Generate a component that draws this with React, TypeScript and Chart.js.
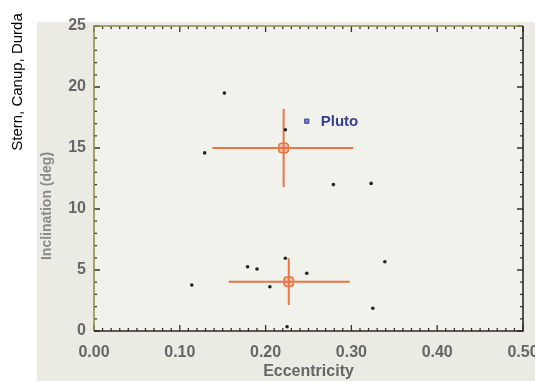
import React, { useEffect, useRef } from "react";
import { Chart, registerables } from "chart.js";

Chart.register(...registerables);

// ---- data ----
const xTickValues = [0, 0.1, 0.2, 0.3, 0.4, 0.5];
const yTickValues = [0, 5, 10, 15, 20, 25];
const xTitle = "Eccentricity";
const yTitle = "Inclination (deg)";
const sideNote = "Stern, Canup, Durda";

const objectEcc = [0.152, 0.129, 0.223, 0.279, 0.323, 0.223, 0.179, 0.19, 0.248, 0.205, 0.114, 0.225, 0.339, 0.325];
const objectInc = [19.5, 14.6, 16.5, 12.0, 12.1, 5.96, 5.27, 5.08, 4.73, 3.63, 3.77, 0.35, 5.68, 1.86];

const crossEcc = [0.221, 0.227];
const crossInc = [15.0, 4.04];
const crossEccLow = [0.138, 0.157];
const crossEccHigh = [0.302, 0.298];
const crossIncLow = [11.8, 2.13];
const crossIncHigh = [18.2, 5.96];

const plutoEcc = [0.248];
const plutoInc = [17.2];
const plutoLabel = "Pluto";

const FONT = "'Liberation Sans', Arial, Helvetica, sans-serif";
const ORANGE = "#ea7444";

const decorPlugin = {
  id: "decor",
  beforeDraw(chart: any) {
    const { ctx, chartArea: a, width, height } = chart;
    ctx.save();
    ctx.fillStyle = "#ffffff";
    ctx.fillRect(0, 0, width, height);
    ctx.fillStyle = "#ebebe4";
    ctx.fillRect(37, 22, width - 37, height - 22);
    ctx.fillStyle = "#f2f2ec";
    ctx.fillRect(a.left, a.top, a.right - a.left, a.bottom - a.top);
    ctx.restore();
  },
  afterDraw(chart: any) {
    const { ctx, chartArea: a } = chart;
    const xs = chart.scales.x;
    const ys = chart.scales.y;
    ctx.save();
    // tick marks, inward on all four sides
    ctx.strokeStyle = "#333328";
    ctx.lineWidth = 1.3;
    ctx.beginPath();
    for (let i = 0; i <= 50; i++) {
      const px = xs.getPixelForValue(i / 100);
      const len = i % 10 === 0 ? 6 : 3;
      ctx.moveTo(px, a.bottom);
      ctx.lineTo(px, a.bottom - len);
      ctx.moveTo(px, a.top);
      ctx.lineTo(px, a.top + len);
    }
    for (let i = 0; i <= 25; i++) {
      const py = ys.getPixelForValue(i);
      const len = i % 5 === 0 ? 6 : 3;
      ctx.moveTo(a.left, py);
      ctx.lineTo(a.left + len, py);
      ctx.moveTo(a.right, py);
      ctx.lineTo(a.right - len, py);
    }
    ctx.stroke();
    // frame
    ctx.lineWidth = 1.6;
    ctx.strokeStyle = "#8e8c48";
    ctx.beginPath();
    ctx.moveTo(a.left, a.bottom);
    ctx.lineTo(a.left, a.top);
    ctx.lineTo(a.right, a.top);
    ctx.stroke();
    ctx.strokeStyle = "#2a2a26";
    ctx.beginPath();
    ctx.moveTo(a.right, a.top);
    ctx.lineTo(a.right, a.bottom);
    ctx.lineTo(a.left, a.bottom);
    ctx.stroke();
    // Pluto label
    const lx = xs.getPixelForValue(plutoEcc[0]);
    const ly = ys.getPixelForValue(plutoInc[0]);
    ctx.fillStyle = "#3b3f92";
    ctx.font = `bold 15px ${FONT}`;
    ctx.textAlign = "left";
    ctx.textBaseline = "middle";
    ctx.fillText(plutoLabel, lx + 14, ly + 1);
    // y axis title
    ctx.save();
    ctx.fillStyle = "#8a8a8a";
    ctx.font = `bold 14px ${FONT}`;
    ctx.translate(47, 206);
    ctx.rotate(-Math.PI / 2);
    ctx.textAlign = "center";
    ctx.textBaseline = "middle";
    ctx.fillText(yTitle, 0, 0);
    ctx.restore();
    // side note
    ctx.fillStyle = "#000000";
    ctx.font = `15px ${FONT}`;
    ctx.translate(18, 82);
    ctx.rotate(-Math.PI / 2);
    ctx.textAlign = "center";
    ctx.textBaseline = "middle";
    ctx.fillText(sideNote, 0, 0);
    ctx.restore();
  },
};

export default function App() {
  const ref = useRef<HTMLCanvasElement | null>(null);

  useEffect(() => {
    if (!ref.current) return;
    const pts = (xs: number[], ys: number[]) => xs.map((x, i) => ({ x, y: ys[i] }));
    const segs: any[] = [];
    crossEcc.forEach((cx, i) => {
      segs.push({
        type: "line",
        data: [
          { x: crossEccLow[i], y: crossInc[i] },
          { x: crossEccHigh[i], y: crossInc[i] },
        ],
        borderColor: ORANGE,
        borderWidth: 2,
        pointRadius: 0,
        showLine: true,
        fill: false,
      });
      segs.push({
        type: "line",
        data: [
          { x: cx, y: crossIncLow[i] },
          { x: cx, y: crossIncHigh[i] },
        ],
        borderColor: ORANGE,
        borderWidth: 2,
        pointRadius: 0,
        showLine: true,
        fill: false,
      });
    });

    const chart = new Chart(ref.current, {
      type: "scatter",
      data: {
        datasets: [
          {
            data: pts(plutoEcc, plutoInc),
            pointStyle: "rect",
            pointRadius: 3,
            backgroundColor: "#7b7fd0",
            borderColor: "#3b3f92",
            borderWidth: 1,
          },
          {
            data: pts(crossEcc, crossInc),
            pointStyle: "rectRounded",
            pointRadius: 5.5,
            backgroundColor: "rgba(234,116,68,0.35)",
            borderColor: ORANGE,
            borderWidth: 1.5,
          },
          {
            data: pts(objectEcc, objectInc),
            pointStyle: "circle",
            pointRadius: 1.8,
            backgroundColor: "#222222",
            borderWidth: 0,
          },
          ...segs,
        ],
      } as any,
      options: {
        responsive: false,
        animation: false,
        layout: { padding: { top: 26, right: 12, left: 0, bottom: 0 } },
        plugins: { legend: { display: false }, tooltip: { enabled: false } },
        scales: {
          x: {
            type: "linear",
            min: 0,
            max: 0.5,
            afterBuildTicks: (s: any) => {
              s.ticks = xTickValues.map((v) => ({ value: v }));
            },
            afterFit: (s: any) => {
              s.height = 50;
              s.paddingLeft = 0;
              s.paddingRight = 0;
            },
            grid: { display: false, drawTicks: false },
            border: { display: false },
            ticks: {
              padding: 12,
              color: "#666666",
              font: { family: FONT, size: 16, weight: "bold" },
              maxRotation: 0,
              autoSkip: false,
              callback: (v: any) => Number(v).toFixed(2),
            },
            title: {
              display: true,
              text: xTitle,
              color: "#666666",
              font: { family: FONT, size: 16, weight: "bold" },
              padding: { top: 0, bottom: 0 },
            },
          },
          y: {
            type: "linear",
            min: 0,
            max: 25,
            afterBuildTicks: (s: any) => {
              s.ticks = yTickValues.map((v) => ({ value: v }));
            },
            afterFit: (s: any) => {
              s.width = 94;
              s.paddingTop = 0;
              s.paddingBottom = 0;
            },
            grid: { display: false, drawTicks: false },
            border: { display: false },
            ticks: {
              padding: 8,
              color: "#666666",
              font: { family: FONT, size: 16, weight: "bold" },
              autoSkip: false,
              callback: (v: any) => String(v),
            },
            title: { display: false },
          },
        },
      } as any,
      plugins: [decorPlugin],
    });
    return () => chart.destroy();
  }, []);

  return (
    <div style={{ position: "fixed", left: 0, top: 0, width: 535, height: 381 }}>
      <canvas ref={ref} width={535} height={381} style={{ display: "block" }} />
    </div>
  );
}
